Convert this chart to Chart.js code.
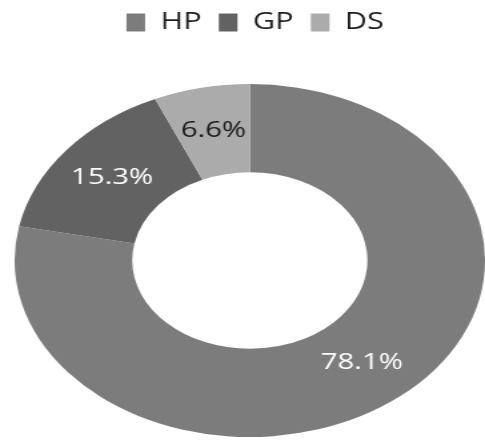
<!DOCTYPE html>
<html>
<head>
<meta charset="utf-8">
<script src="https://cdn.jsdelivr.net/npm/chart.js@4"></script>
<style>
  html, body { margin: 0; padding: 0; background: #fff; }
</style>
</head>
<body>
<canvas id="chart" width="364" height="440" style="width:485px;height:440px"></canvas>
<script>
const labels = ['HP', 'GP', 'DS'];
const shares = [78.1, 15.3, 6.6];
const colors = ['#7c7c7c', '#626262', '#ababab'];
const labelColors = ['#ffffff', '#ffffff', '#1a1a1a'];

// pushes the ring down below the legend and nudges the legend right
const legendGap = {
    id: 'legendGap',
    beforeInit(chart) {
        const fit = chart.legend.fit;
        chart.legend.fit = function () {
            fit.call(this);
            this.height += 36;
        };
    },
    afterLayout(chart) {
        chart.legend.left += 4;
        chart.legend.right += 4;
        chart.legend.top -= 2;
    }
};

const sliceLabels = {
    id: 'sliceLabels',
    afterDatasetsDraw(chart) {
        const ctx = chart.ctx;
        const meta = chart.getDatasetMeta(0);
        ctx.save();
        ctx.font = '22px "Open Sans"';
        ctx.textAlign = 'center';
        ctx.textBaseline = 'middle';
        meta.data.forEach((arc, i) => {
            const p = arc.getCenterPoint();
            ctx.fillStyle = labelColors[i];
            ctx.fillText(shares[i].toFixed(1) + '%', p.x, p.y);
        });
        ctx.restore();
    }
};

new Chart(document.getElementById('chart'), {
    type: 'doughnut',
    data: {
        labels: labels,
        datasets: [{
            data: shares,
            backgroundColor: colors,
            borderWidth: 0
        }]
    },
    options: {
        responsive: false,
        animation: false,
        cutout: '50%',
        layout: { padding: { left: 11, bottom: 1 } },
        plugins: {
            legend: {
                position: 'top',
                labels: {
                    boxWidth: 14,
                    boxHeight: 18,
                    padding: 13,
                    color: '#1e1e1e',
                    font: { family: 'Open Sans', size: 23, weight: '500' }
                }
            },
            tooltip: { enabled: false }
        }
    },
    plugins: [legendGap, sliceLabels]
});
</script>
</body>
</html>
